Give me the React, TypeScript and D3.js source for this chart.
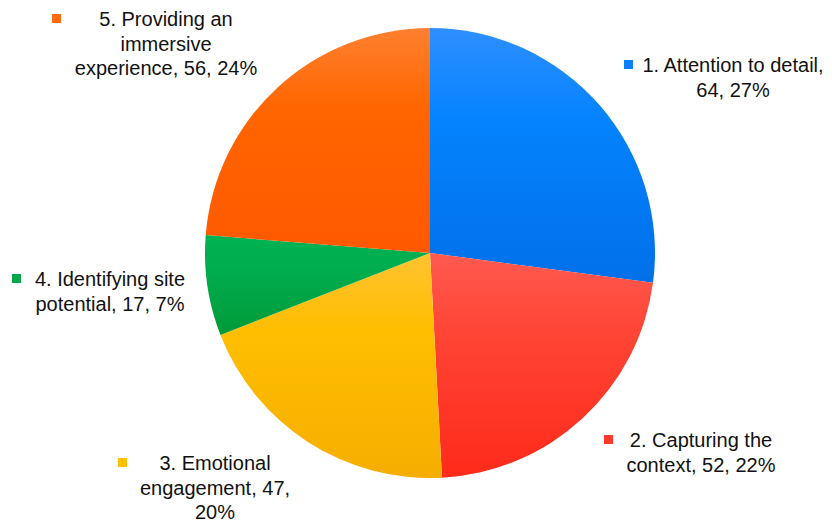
import React, { useEffect } from "react";
import * as d3 from "d3";

const categories = [
  "1. Attention to detail",
  "2. Capturing the context",
  "3. Emotional engagement",
  "4. Identifying site potential",
  "5. Providing an immersive experience",
];
const counts = [64, 52, 47, 17, 56];
const percents = ["27%", "22%", "20%", "7%", "24%"];

// label text split in lines as in the picture
const labelLines = [
  ["1. Attention to detail,", "64, 27%"],
  ["2. Capturing the", "context, 52, 22%"],
  ["3. Emotional", "engagement, 47,", "20%"],
  ["4. Identifying site", "potential, 17, 7%"],
  ["5. Providing an", "immersive", "experience, 56, 24%"],
];

// top / bottom colours of each slice gradient
const colorsTop = ["#2e8fff", "#ff5a50", "#ffc330", "#00b352", "#ff8030"];
const colorsMid = ["#0583ff", "#ff4535", "#ffbe00", "#00ad4e", "#ff6600"];
const colorsBottom = ["#0070e8", "#ff2a1a", "#f5ae00", "#009a38", "#ff5800"];
const markerColors = ["#0a7fff", "#ff3a2a", "#ffc000", "#00a84a", "#ff6a10"];

// label layout: centre x of text block, first baseline, marker x
const labelPos = [
  { cx: 733, y: 72, mx: 624 },
  { cx: 701, y: 447, mx: 604 },
  { cx: 215, y: 470, mx: 118 },
  { cx: 110, y: 286, mx: 12 },
  { cx: 166, y: 26, mx: 52 },
];

const W = 832;
const H = 522;
const cx = 430;
const cy = 253;
const R = 225;

export default function App() {
  useEffect(() => {
    document.body.style.margin = "0";
  }, []);

  const pie = d3
    .pie<number>()
    .sort(null)
    .value((d) => d);
  const arcs = pie(counts);
  const arc = d3.arc<d3.PieArcDatum<number>>().innerRadius(0).outerRadius(R);

  return (
    <svg width={W} height={H} style={{ display: "block", background: "#fff" }}>
      <defs>
        {counts.map((_, i) => (
          <linearGradient key={i} id={`g${i}`} x1="0" y1="0" x2="0" y2="1">
            <stop offset="0%" stopColor={colorsTop[i]} />
            <stop offset="35%" stopColor={colorsMid[i]} />
            <stop offset="100%" stopColor={colorsBottom[i]} />
          </linearGradient>
        ))}
      </defs>
      <g transform={`translate(${cx},${cy})`}>
        {arcs.map((a, i) => (
          <path key={categories[i]} d={arc(a) || ""} fill={`url(#g${i})`} />
        ))}
      </g>
      <g fontFamily="'Liberation Sans', Arial, sans-serif" fontSize={20} fill="#111">
        {labelLines.map((lines, i) => {
          const p = labelPos[i];
          return (
            <g key={i}>
              <rect x={p.mx} y={p.y - 12} width={9} height={9} fill={markerColors[i]} />
              <text textAnchor="middle">
                {lines.map((l, j) => (
                  <tspan key={j} x={p.cx} y={p.y + j * 24.5}>
                    {l}
                  </tspan>
                ))}
              </text>
            </g>
          );
        })}
      </g>
    </svg>
  );
}
